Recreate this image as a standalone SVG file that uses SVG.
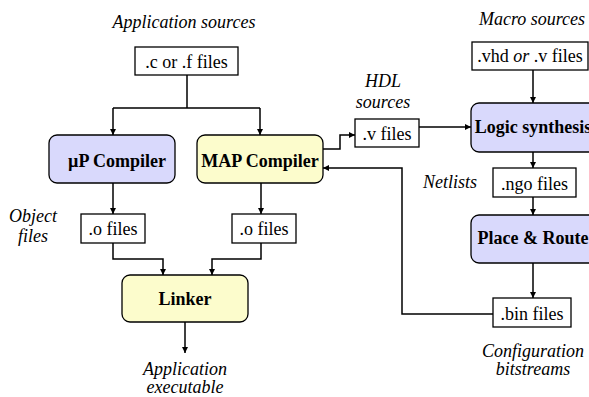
<svg xmlns="http://www.w3.org/2000/svg" width="589" height="397" viewBox="0 0 589 397">
<defs>
<marker id="ah" viewBox="0 0 10 10" refX="10" refY="5" markerWidth="6" markerHeight="6" markerUnits="userSpaceOnUse" orient="auto">
<path d="M0,0 L10,5 L0,10 z" fill="#000"/>
</marker>
<style>
text{font-family:"Liberation Serif","Times New Roman",serif;font-size:18px;fill:#000;text-anchor:middle}
.it{font-style:italic}
.b{font-weight:bold}
.file{fill:#fff;stroke:#000;stroke-width:1.3}
.blue{fill:#d9d9fc;stroke:#000;stroke-width:1.3}
.yel{fill:#fcfccc;stroke:#000;stroke-width:1.3}
.c{fill:none;stroke:#000;stroke-width:1.5}
.ca{fill:none;stroke:#000;stroke-width:1.5;marker-end:url(#ah)}
</style>
</defs>
<rect width="589" height="397" fill="#fff"/>
<g id="labels">
<text class="it" x="184" y="28">Application sources</text>
<text class="it" x="532" y="25">Macro sources</text>
<text class="it" x="383" y="87">HDL</text>
<text class="it" x="383" y="108">sources</text>
<text class="it" x="450" y="188">Netlists</text>
<text class="it" x="33" y="222">Object</text>
<text class="it" x="33" y="242">files</text>
<text class="it" x="185" y="375">Application</text>
<text class="it" x="185" y="393">executable</text>
<text class="it" x="533" y="357">Configuration</text>
<text class="it" x="533" y="375">bitstreams</text>
</g>
<g id="connectors">
<path class="c" d="M187,75 V108 M113,108 H260"/>
<path class="ca" d="M113,108 V135"/>
<path class="ca" d="M260,108 V135"/>
<path class="ca" d="M113,183 V214"/>
<path class="ca" d="M261,183 V214"/>
<path class="ca" d="M113,243 V259 H163 V275"/>
<path class="ca" d="M261,243 V259 H212 V275"/>
<path class="ca" d="M185,322 V353"/>
<path class="ca" d="M323,149 H340 V135 H355"/>
<path class="ca" d="M419,127 H471"/>
<path class="ca" d="M533,70 V103"/>
<path class="ca" d="M533,152 V168"/>
<path class="ca" d="M533,197 V215"/>
<path class="ca" d="M533,263 V298"/>
<path class="ca" d="M493,314 H402 V168 H323"/>
</g>
<g id="src">
<rect class="file" x="135" y="47" width="103" height="28"/>
<text x="186.5" y="68">.c or .f  files</text>
</g>
<g id="up-compiler">
<rect class="blue" x="49" y="135" width="126" height="48" rx="8"/>
<text class="b" x="117" y="167">µP Compiler</text>
</g>
<g id="map-compiler">
<rect class="yel" x="197" y="135" width="126" height="48" rx="8"/>
<text class="b" x="260" y="167">MAP Compiler</text>
</g>
<g id="o-left">
<rect class="file" x="81" y="214" width="64" height="29"/>
<text x="113" y="235">.o files</text>
</g>
<g id="o-right">
<rect class="file" x="232" y="214" width="64" height="29"/>
<text x="264" y="235">.o files</text>
</g>
<g id="linker">
<rect class="yel" x="122" y="275" width="126" height="47" rx="8"/>
<text class="b" x="185" y="305">Linker</text>
</g>
<g id="v-files">
<rect class="file" x="355" y="119" width="64" height="28"/>
<text x="387" y="140">.v files</text>
</g>
<g id="vhd-files">
<rect class="file" x="472" y="42" width="116" height="28"/>
<text x="530" y="62">.vhd <tspan class="it">or</tspan> .v files</text>
</g>
<g id="logic-synthesis">
<rect class="blue" x="471" y="103" width="126" height="49" rx="8"/>
<text class="b" x="533" y="133">Logic synthesis</text>
</g>
<g id="ngo-files">
<rect class="file" x="493" y="168" width="83" height="29"/>
<text x="534.5" y="190">.ngo files</text>
</g>
<g id="place-route">
<rect class="blue" x="471" y="215" width="126" height="48" rx="8"/>
<text class="b" x="533" y="244">Place &amp; Route</text>
</g>
<g id="bin-files">
<rect class="file" x="493" y="298" width="78" height="29"/>
<text x="532" y="320">.bin files</text>
</g>
</svg>
